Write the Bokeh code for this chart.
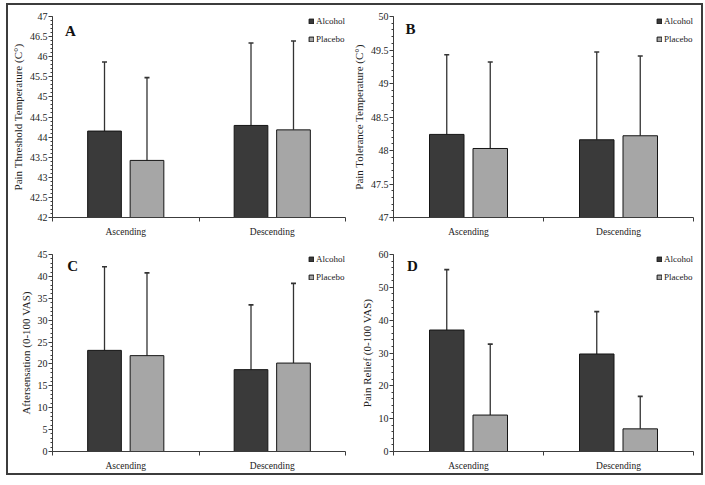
import numpy as np
from bokeh.plotting import figure
from bokeh.models import (ColumnDataSource, Range1d, FixedTicker, SingleIntervalTicker,
                          Whisker, TeeHead, Legend, LegendItem, Label)
from bokeh.layouts import gridplot
from bokeh.embed import file_html
from bokeh.resources import INLINE

categories = ["Ascending", "Descending"]
groups = ["Alcohol", "Placebo"]

# Panel A: Pain Threshold Temperature
a_alcohol = [44.15, 44.29]
a_alcohol_sd = [1.72, 2.05]
a_placebo = [43.42, 44.18]
a_placebo_sd = [2.06, 2.21]

# Panel B: Pain Tolerance Temperature
b_alcohol = [48.24, 48.16]
b_alcohol_sd = [1.19, 1.31]
b_placebo = [48.03, 48.22]
b_placebo_sd = [1.29, 1.19]

# Panel C: Aftersensation
c_alcohol = [23.1, 18.7]
c_alcohol_sd = [19.1, 14.8]
c_placebo = [21.9, 20.2]
c_placebo_sd = [18.9, 18.2]

# Panel D: Pain Relief
d_alcohol = [37.0, 29.7]
d_alcohol_sd = [18.4, 12.9]
d_placebo = [11.1, 6.9]
d_placebo_sd = [21.6, 9.9]

FONT = "Liberation Serif"
DARK = "#3a3a3a"
LIGHT = "#a6a6a6"
AXC = "#3c3c3c"
FRAMEC = "#3c3c3c"


def panel(letter, ylabel, y0, y1, step, alc, alc_sd, pla, pla_sd,
          width, height, mb_left, mb_right, mb_top, mb_bottom, letter_dx, letter_dy):
    p = figure(width=width, height=height, x_range=Range1d(0, 2), y_range=Range1d(y0, y1),
               output_backend="svg", toolbar_location=None,
               min_border_left=mb_left, min_border_right=mb_right,
               min_border_top=mb_top, min_border_bottom=mb_bottom)
    p.outline_line_color = None
    p.xgrid.visible = False
    p.ygrid.visible = False
    p.background_fill_color = "white"
    p.border_fill_color = "white"

    xc = np.arange(len(categories)) + 0.5
    off = 0.145
    bw = 0.23
    renderers = []
    for vals, sds, color, dx in ((alc, alc_sd, DARK, -off), (pla, pla_sd, LIGHT, off)):
        vals = np.array(vals, dtype=float)
        sds = np.array(sds, dtype=float)
        src = ColumnDataSource(dict(x=xc + dx, top=vals, upper=vals + sds))
        w = Whisker(base="x", upper="upper", lower="top", source=src, dimension="height",
                    line_color="#333333", line_width=1.3,
                    upper_head=TeeHead(size=5, line_color="#333333", line_width=1.6),
                    lower_head=None)
        p.add_layout(w)
        r = p.vbar(x="x", top="top", bottom=y0, width=bw, source=src,
                   fill_color=color, line_color="#151515", line_width=1)
        renderers.append(r)

    legend = Legend(items=[LegendItem(label=g, renderers=[r]) for g, r in zip(groups, renderers)],
                    location="top_right", glyph_width=6, glyph_height=6,
                    label_text_font=FONT, label_text_font_size="9px", label_text_color="#222222",
                    label_height=10, label_standoff=2, spacing=8, padding=0, margin=0,
                    background_fill_alpha=0, border_line_color=None)
    p.add_layout(legend)

    p.add_layout(Label(x=2 * letter_dx, y=y1 - (y1 - y0) * letter_dy, text=letter,
                       text_font=FONT, text_font_style="bold", text_font_size="15px",
                       text_color="#111111", text_align="left", text_baseline="middle"))

    xa = p.xaxis[0]
    xa.ticker = FixedTicker(ticks=list(xc), minor_ticks=[0, 1, 2])
    xa.major_label_overrides = {float(v): c for v, c in zip(xc, categories)}
    xa.major_tick_out = 0
    xa.major_tick_in = 0
    xa.minor_tick_out = 4
    xa.minor_tick_in = 0
    xa.axis_line_color = AXC
    xa.minor_tick_line_color = AXC
    xa.major_label_text_font = FONT
    xa.major_label_text_font_size = "9.5px"
    xa.major_label_text_color = "#222222"
    xa.major_label_standoff = 5

    ya = p.yaxis[0]
    ya.ticker = SingleIntervalTicker(interval=step, num_minor_ticks=5)
    ticks = np.arange(y0, y1 + step / 2, step)
    ya.major_label_overrides = {float(t): f"{t:g}" for t in ticks}
    ya.major_tick_out = 4
    ya.major_tick_in = 0
    ya.minor_tick_out = 2
    ya.minor_tick_in = 0
    ya.axis_line_color = AXC
    ya.major_tick_line_color = AXC
    ya.minor_tick_line_color = AXC
    ya.major_label_text_font = FONT
    ya.major_label_text_font_size = "10px"
    ya.major_label_text_color = "#222222"
    ya.major_label_standoff = 1
    ya.axis_label = ylabel
    ya.axis_label_text_font = FONT
    ya.axis_label_text_font_style = "normal"
    ya.axis_label_text_font_size = "11px"
    ya.axis_label_text_color = "#222222"
    ya.axis_label_standoff = 3
    return p


W1, W2, H1, H2 = 341, 352, 234, 234
pA = panel("A", "Pain Threshold Temperature (C°)", 42, 47, 0.5,
           a_alcohol, a_alcohol_sd, a_placebo, a_placebo_sd,
           W1, H1, 44, 4, 11, 21, 0.043, 0.07)
pB = panel("B", "Pain Tolerance Temperature (C°)", 47, 50, 0.5,
           b_alcohol, b_alcohol_sd, b_placebo, b_placebo_sd,
           W2, H1, 41, 8, 11, 21, 0.04, 0.06)
pC = panel("C", "Aftersensation (0-100 VAS)", 0, 45, 5,
           c_alcohol, c_alcohol_sd, c_placebo, c_placebo_sd,
           W1, H2, 44, 4, 15, 17, 0.05, 0.06)
pD = panel("D", "Pain Relief (0-100 VAS)", 0, 60, 10,
           d_alcohol, d_alcohol_sd, d_placebo, d_placebo_sd,
           W2, H2, 41, 8, 15, 17, 0.045, 0.06)

grid = gridplot([[pA, pB], [pC, pD]], toolbar_location=None)
grid.styles = {"border": f"2px solid {FRAMEC}", "margin-left": "6px", "margin-top": "3px"}

open("out.html", "w").write(file_html(grid, INLINE))
